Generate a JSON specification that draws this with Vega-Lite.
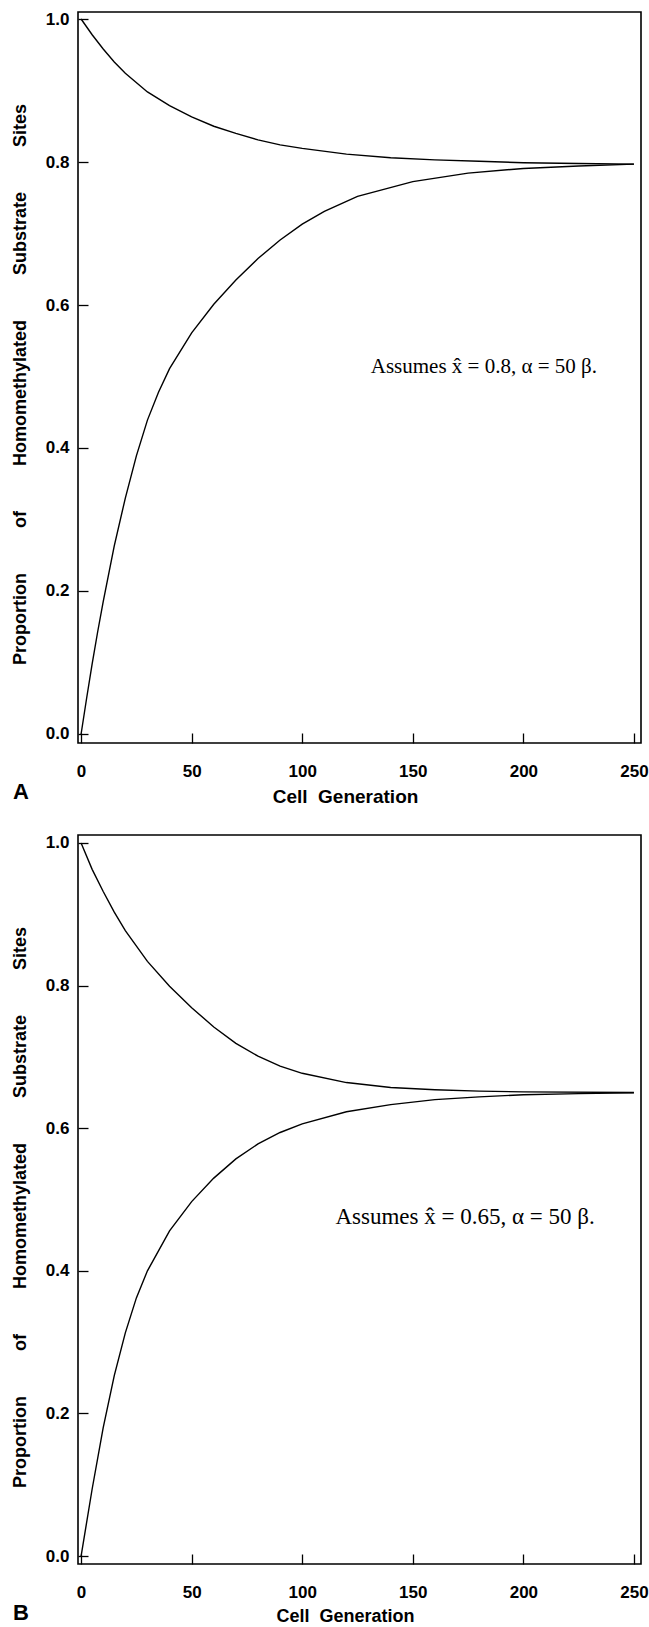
{
  "$schema": "https://vega.github.io/schema/vega-lite/v6.json",
  "background": "white",
  "padding": {"left": 10, "top": 9, "right": 5, "bottom": 0},
  "bounds": "flush",
  "spacing": 92,
  "datasets": {
    "curves": [
      {"panel":"A","series":"upper","gen":0,"value":1.0},
      {"panel":"A","series":"upper","gen":5,"value":0.978},
      {"panel":"A","series":"upper","gen":10,"value":0.958},
      {"panel":"A","series":"upper","gen":15,"value":0.940},
      {"panel":"A","series":"upper","gen":20,"value":0.924},
      {"panel":"A","series":"upper","gen":30,"value":0.898},
      {"panel":"A","series":"upper","gen":40,"value":0.879},
      {"panel":"A","series":"upper","gen":50,"value":0.863},
      {"panel":"A","series":"upper","gen":60,"value":0.850},
      {"panel":"A","series":"upper","gen":70,"value":0.840},
      {"panel":"A","series":"upper","gen":80,"value":0.831},
      {"panel":"A","series":"upper","gen":90,"value":0.824},
      {"panel":"A","series":"upper","gen":100,"value":0.819},
      {"panel":"A","series":"upper","gen":120,"value":0.811},
      {"panel":"A","series":"upper","gen":140,"value":0.806},
      {"panel":"A","series":"upper","gen":160,"value":0.803},
      {"panel":"A","series":"upper","gen":180,"value":0.801},
      {"panel":"A","series":"upper","gen":200,"value":0.799},
      {"panel":"A","series":"upper","gen":225,"value":0.798},
      {"panel":"A","series":"upper","gen":250,"value":0.797},
      {"panel":"A","series":"lower","gen":0,"value":0.0},
      {"panel":"A","series":"lower","gen":2.5,"value":0.050},
      {"panel":"A","series":"lower","gen":5,"value":0.098},
      {"panel":"A","series":"lower","gen":7.5,"value":0.143},
      {"panel":"A","series":"lower","gen":10,"value":0.185},
      {"panel":"A","series":"lower","gen":15,"value":0.263},
      {"panel":"A","series":"lower","gen":20,"value":0.330},
      {"panel":"A","series":"lower","gen":25,"value":0.389},
      {"panel":"A","series":"lower","gen":30,"value":0.439},
      {"panel":"A","series":"lower","gen":35,"value":0.478},
      {"panel":"A","series":"lower","gen":40,"value":0.511},
      {"panel":"A","series":"lower","gen":50,"value":0.561},
      {"panel":"A","series":"lower","gen":60,"value":0.601},
      {"panel":"A","series":"lower","gen":70,"value":0.635},
      {"panel":"A","series":"lower","gen":80,"value":0.665},
      {"panel":"A","series":"lower","gen":90,"value":0.691},
      {"panel":"A","series":"lower","gen":100,"value":0.713},
      {"panel":"A","series":"lower","gen":110,"value":0.731},
      {"panel":"A","series":"lower","gen":125,"value":0.752},
      {"panel":"A","series":"lower","gen":150,"value":0.7725},
      {"panel":"A","series":"lower","gen":175,"value":0.7845},
      {"panel":"A","series":"lower","gen":200,"value":0.791},
      {"panel":"A","series":"lower","gen":225,"value":0.7945},
      {"panel":"A","series":"lower","gen":250,"value":0.797},
      {"panel":"B","series":"upper","gen":0,"value":1.0},
      {"panel":"B","series":"upper","gen":5,"value":0.963},
      {"panel":"B","series":"upper","gen":10,"value":0.932},
      {"panel":"B","series":"upper","gen":15,"value":0.903},
      {"panel":"B","series":"upper","gen":20,"value":0.877},
      {"panel":"B","series":"upper","gen":30,"value":0.834},
      {"panel":"B","series":"upper","gen":40,"value":0.799},
      {"panel":"B","series":"upper","gen":50,"value":0.769},
      {"panel":"B","series":"upper","gen":60,"value":0.742},
      {"panel":"B","series":"upper","gen":70,"value":0.719},
      {"panel":"B","series":"upper","gen":80,"value":0.701},
      {"panel":"B","series":"upper","gen":90,"value":0.687},
      {"panel":"B","series":"upper","gen":100,"value":0.677},
      {"panel":"B","series":"upper","gen":120,"value":0.664},
      {"panel":"B","series":"upper","gen":140,"value":0.657},
      {"panel":"B","series":"upper","gen":160,"value":0.654},
      {"panel":"B","series":"upper","gen":180,"value":0.652},
      {"panel":"B","series":"upper","gen":200,"value":0.651},
      {"panel":"B","series":"upper","gen":250,"value":0.650},
      {"panel":"B","series":"lower","gen":0,"value":0.0},
      {"panel":"B","series":"lower","gen":5,"value":0.094},
      {"panel":"B","series":"lower","gen":10,"value":0.180},
      {"panel":"B","series":"lower","gen":15,"value":0.253},
      {"panel":"B","series":"lower","gen":20,"value":0.313},
      {"panel":"B","series":"lower","gen":25,"value":0.362},
      {"panel":"B","series":"lower","gen":30,"value":0.400},
      {"panel":"B","series":"lower","gen":40,"value":0.456},
      {"panel":"B","series":"lower","gen":50,"value":0.497},
      {"panel":"B","series":"lower","gen":60,"value":0.530},
      {"panel":"B","series":"lower","gen":70,"value":0.557},
      {"panel":"B","series":"lower","gen":80,"value":0.578},
      {"panel":"B","series":"lower","gen":90,"value":0.594},
      {"panel":"B","series":"lower","gen":100,"value":0.606},
      {"panel":"B","series":"lower","gen":120,"value":0.623},
      {"panel":"B","series":"lower","gen":140,"value":0.633},
      {"panel":"B","series":"lower","gen":160,"value":0.640},
      {"panel":"B","series":"lower","gen":180,"value":0.644},
      {"panel":"B","series":"lower","gen":200,"value":0.647},
      {"panel":"B","series":"lower","gen":225,"value":0.6485},
      {"panel":"B","series":"lower","gen":250,"value":0.6495}
    ],
    "notes": [
      {"panel":"A","gen":131,"value":0.513,"label":"Assumes x\u0302 = 0.8, \u03b1 = 50 \u03b2."},
      {"panel":"B","gen":115,"value":0.475,"label":"Assumes x\u0302 = 0.65, \u03b1 = 50 \u03b2."}
    ]
  },
  "config": {
    "view": {"stroke": "black", "strokeWidth": 1.6},
    "axis": {
      "grid": false, "domain": false,
      "tickColor": "black", "tickSize": -10, "tickWidth": 1.3,
      "labelColor": "black", "labelFont": "Liberation Sans", "labelFontSize": 17, "labelFontWeight": "bold",
      "titleColor": "black", "titleFont": "Liberation Sans", "titleFontWeight": "bold"
    },
    "axisX": {"labelPadding": 30, "titleFontSize": 19, "titlePadding": 8, "labelFlush": false, "titleX": 267},
    "axisY": {"labelPadding": 19, "titleFontSize": 18, "titlePadding": 16, "titleY": 372},
    "title": {"color": "black", "font": "Liberation Sans", "fontWeight": "bold", "fontSize": 22}
  },
  "vconcat": [
    {
      "width": 563, "height": 731,
      "title": {"text": "A", "orient": "bottom", "anchor": "start", "frame": "group", "dx": -65, "offset": -24},
      "layer": [
        {
          "data": {"name": "curves"},
          "transform": [{"filter": "datum.panel === 'A'"}],
          "mark": {"type": "line", "color": "black", "strokeWidth": 1.4},
          "encoding": {
            "x": {"field": "gen", "type": "quantitative", "scale": {"domain": [-1.4, 253.2], "nice": false, "zero": false},
                  "axis": {"values": [0,50,100,150,200,250], "title": "Cell\u00a0\u00a0Generation"}},
            "y": {"field": "value", "type": "quantitative", "scale": {"domain": [-0.0126, 1.0098], "nice": false, "zero": false},
                  "axis": {"values": [0,0.2,0.4,0.6,0.8,1.0], "format": ".1f", "title": "Proportion\u00a0\u00a0\u00a0\u00a0\u00a0\u00a0\u00a0\u00a0\u00a0of\u00a0\u00a0\u00a0\u00a0\u00a0\u00a0\u00a0\u00a0\u00a0Homomethylated\u00a0\u00a0\u00a0\u00a0\u00a0\u00a0\u00a0\u00a0\u00a0Substrate\u00a0\u00a0\u00a0\u00a0\u00a0\u00a0\u00a0\u00a0\u00a0Sites"}},
            "detail": {"field": "series"}
          }
        },
        {
          "data": {"name": "notes"},
          "transform": [{"filter": "datum.panel === 'A'"}],
          "mark": {"type": "text", "align": "left", "baseline": "middle", "font": "Liberation Serif", "fontSize": 21, "color": "black"},
          "encoding": {
            "x": {"field": "gen", "type": "quantitative"},
            "y": {"field": "value", "type": "quantitative"},
            "text": {"field": "label"}
          }
        }
      ]
    },
    {
      "width": 563, "height": 729,
      "title": {"text": "B", "orient": "bottom", "anchor": "start", "frame": "group", "dx": -65, "offset": -22},
      "layer": [
        {
          "data": {"name": "curves"},
          "transform": [{"filter": "datum.panel === 'B'"}],
          "mark": {"type": "line", "color": "black", "strokeWidth": 1.4},
          "encoding": {
            "x": {"field": "gen", "type": "quantitative", "scale": {"domain": [-1.4, 253.2], "nice": false, "zero": false},
                  "axis": {"values": [0,50,100,150,200,250], "title": "Cell\u00a0\u00a0Generation", "titlePadding": 7, "titleFontSize": 18}},
            "y": {"field": "value", "type": "quantitative", "scale": {"domain": [-0.0112, 1.0112], "nice": false, "zero": false},
                  "axis": {"values": [0,0.2,0.4,0.6,0.8,1.0], "format": ".1f", "title": "Proportion\u00a0\u00a0\u00a0\u00a0\u00a0\u00a0\u00a0\u00a0\u00a0of\u00a0\u00a0\u00a0\u00a0\u00a0\u00a0\u00a0\u00a0\u00a0Homomethylated\u00a0\u00a0\u00a0\u00a0\u00a0\u00a0\u00a0\u00a0\u00a0Substrate\u00a0\u00a0\u00a0\u00a0\u00a0\u00a0\u00a0\u00a0\u00a0Sites"}},
            "detail": {"field": "series"}
          }
        },
        {
          "data": {"name": "notes"},
          "transform": [{"filter": "datum.panel === 'B'"}],
          "mark": {"type": "text", "align": "left", "baseline": "middle", "font": "Liberation Serif", "fontSize": 23, "color": "black"},
          "encoding": {
            "x": {"field": "gen", "type": "quantitative"},
            "y": {"field": "value", "type": "quantitative"},
            "text": {"field": "label"}
          }
        }
      ]
    }
  ]
}
